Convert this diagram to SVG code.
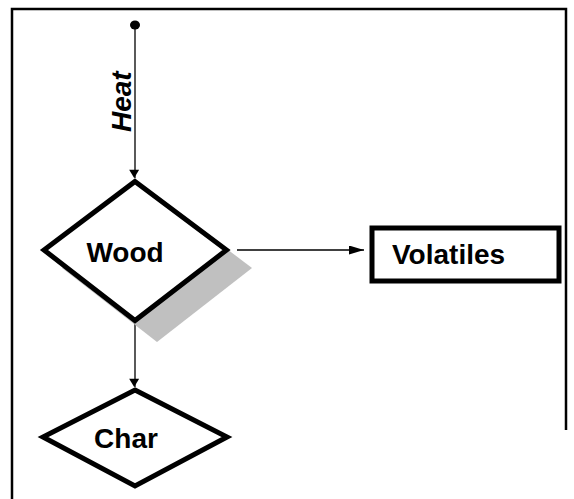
<svg xmlns="http://www.w3.org/2000/svg" width="574" height="499" viewBox="0 0 574 499">
<style>
.lbl{font-family:"Liberation Sans",Arial,sans-serif;font-weight:bold;font-size:28px;fill:#000}
.node{fill:#fff;stroke:#000;stroke-width:5;stroke-linejoin:miter}
.conn{stroke:#000;stroke-width:1.3;fill:none}
.frame{stroke:#000;stroke-width:2.5;fill:none}
</style>
<defs>
<marker id="ahV" markerWidth="12" markerHeight="10" refX="10" refY="5" orient="auto" markerUnits="userSpaceOnUse" viewBox="0 0 10 12">
<path d="M0,0 L10,6 L0,12 Z" fill="#000"/>
</marker>
<marker id="ahH" markerWidth="15" markerHeight="9" refX="15" refY="4.5" orient="auto" markerUnits="userSpaceOnUse" viewBox="0 0 15 9">
<path d="M0,0 L15,4.5 L0,9 Z" fill="#000"/>
</marker>
</defs>
<rect width="574" height="499" fill="#fff"/>
<path class="frame" d="M12,499 V9 H566 V430"/>
<g id="connectors">
<ellipse cx="135" cy="25" rx="5" ry="4.5" fill="#000"/>
<line class="conn" x1="135" y1="25" x2="135" y2="178" marker-end="url(#ahV)"/>
<line class="conn" x1="237" y1="250" x2="364" y2="250" marker-end="url(#ahH)"/>
<line class="conn" x1="135" y1="322" x2="135" y2="387" marker-end="url(#ahV)"/>
<text class="lbl" font-style="italic" transform="translate(131,132) rotate(-90)">Heat</text>
</g>
<g id="wood">
<polygon points="157,196 252,268 157,342 62,268" fill="#c0c0c0"/>
<polygon class="node" points="135,181.5 226.5,250 135,320.5 44,250"/>
<text class="lbl" x="125" y="262" text-anchor="middle">Wood</text>
</g>
<g id="volatiles">
<rect class="node" x="372" y="228" width="187" height="53" stroke-width="6"/>
<text class="lbl" x="392" y="264">Volatiles</text>
</g>
<g id="char">
<polygon class="node" points="135,390 227,437 135,486 43,437"/>
<text class="lbl" x="126" y="448" text-anchor="middle">Char</text>
</g>
</svg>
